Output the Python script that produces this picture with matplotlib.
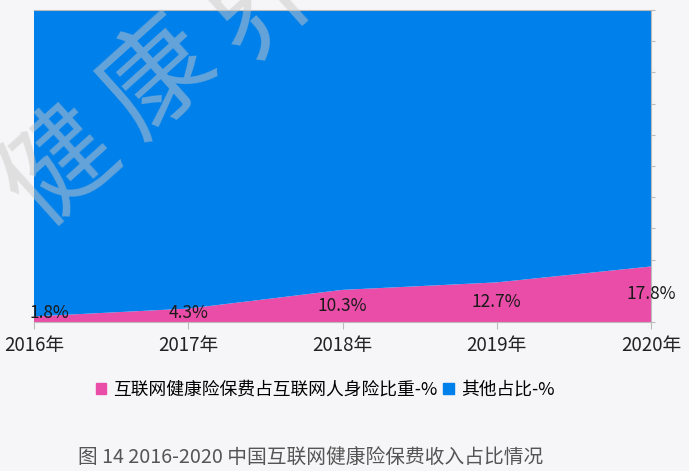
import matplotlib
matplotlib.use("Agg")
import matplotlib.pyplot as plt
import numpy as np
from matplotlib.patches import Patch

plt.rcParams['font.family'] = ['Noto Sans CJK SC', 'DejaVu Sans']

years = ["2016年", "2017年", "2018年", "2019年", "2020年"]
health_share = [1.8, 4.3, 10.3, 12.7, 17.8]
other_share = [98.2, 95.7, 89.7, 87.3, 82.2]
labels = ["1.8%", "4.3%", "10.3%", "12.7%", "17.8%"]

pink = "#E94DA8"
blue = "#0080EA"

fig = plt.figure(figsize=(6.89, 4.71), dpi=100, facecolor="#F6F6F8")
ax = fig.add_axes([34/689, 1-322/471, (651-34)/689, (322-10)/471])
x = np.arange(len(years))
ax.stackplot(x, health_share, other_share, colors=[pink, blue], linewidth=0)
ax.set_xlim(0, len(years)-1)
ax.set_ylim(0, 100)
ax.set_xticks(x)
ax.set_xticklabels(years, fontsize=13.5, color="#222222")
ax.yaxis.tick_right()
ax.set_yticks(np.arange(0, 101, 10))
ax.set_yticklabels([])
ax.tick_params(axis='y', length=3, color="#BBBBBB", width=0.8)
ax.tick_params(axis='x', length=5, color="#BBBBBB", width=0.8, pad=4)
for s in ax.spines.values():
    s.set_color("#BBBBBB")
    s.set_linewidth(0.8)
ax.spines['left'].set_visible(False)

for xi, v, t in zip(x, health_share, labels):
    yy = max(v/2, 3.0)
    xx = xi + (0.1 if xi == 0 else 0)
    ax.text(xx, yy, t, ha='center', va='center', fontsize=12.5, color="#1a1a1a", zorder=5)

# watermark
wm = dict(fontsize=80, color="#C8C8C8", alpha=0.5, rotation=42, ha='center', va='center',
          zorder=10, fontweight='light')
fig.text(60/689, 1-168/471, "健", **wm)
fig.text(158/689, 1-78/471, "康", **wm)
fig.text(262/689, 1-2/471, "界", **wm)

# legend
handles = [Patch(color=pink, label="互联网健康险保费占互联网人身险比重-%"),
           Patch(color=blue, label="其他占比-%")]
fig.legend(handles=handles, loc='center', bbox_to_anchor=(325/689, 1-390/471), ncol=2,
           frameon=False, fontsize=12.8, handlelength=0.6, handleheight=0.6,
           handletextpad=0.4, columnspacing=0.3)

fig.text(78/689, 1-458/471, "图 14 2016-2020 中国互联网健康险保费收入占比情况", fontsize=14.2,
         color="#555555", ha='left', va='center')

fig.savefig("out.png", dpi=100, facecolor=fig.get_facecolor())
